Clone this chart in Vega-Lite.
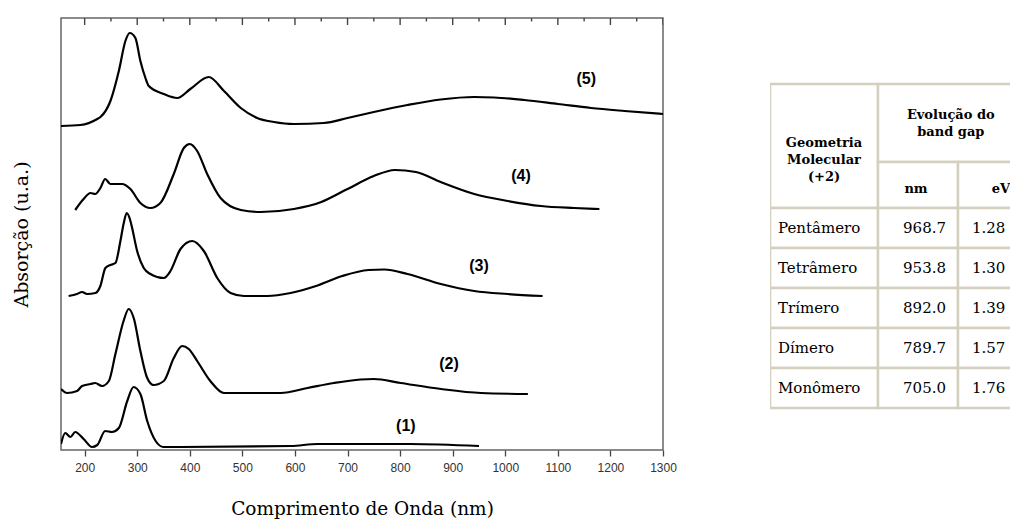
{
  "$schema": "https://vega.github.io/schema/vega-lite/v6.json",
  "padding": {"left": 11, "top": 17, "right": 0, "bottom": 0},
  "spacing": 92,
  "config": {"view": {"stroke": null}, "axis": {"grid": false}},
  "datasets": {
    "curves": [
      {"s":"5","nm":155,"a":324},{"s":"5","nm":192,"a":325},{"s":"5","nm":224,"a":331},{"s":"5","nm":230,"a":333},{"s":"5","nm":249,"a":349},{"s":"5","nm":265,"a":379},{"s":"5","nm":277.5,"a":409},{"s":"5","nm":285.7,"a":417},{"s":"5","nm":296.5,"a":412},{"s":"5","nm":306,"a":389},{"s":"5","nm":315.6,"a":372},{"s":"5","nm":322,"a":364},{"s":"5","nm":350.5,"a":356},{"s":"5","nm":376,"a":352},{"s":"5","nm":401,"a":361},{"s":"5","nm":436,"a":373},{"s":"5","nm":465,"a":359},{"s":"5","nm":497,"a":342},{"s":"5","nm":528,"a":332},{"s":"5","nm":560,"a":328},{"s":"5","nm":598,"a":326},{"s":"5","nm":655,"a":327},{"s":"5","nm":700,"a":332},{"s":"5","nm":750,"a":338},{"s":"5","nm":814,"a":345},{"s":"5","nm":877,"a":350.5},{"s":"5","nm":941,"a":353},{"s":"5","nm":979,"a":352.5},{"s":"5","nm":1036,"a":350},{"s":"5","nm":1100,"a":346},{"s":"5","nm":1163,"a":342},{"s":"5","nm":1227,"a":339},{"s":"5","nm":1300,"a":336},
      {"s":"4","nm":182,"a":240},{"s":"4","nm":198,"a":251},{"s":"4","nm":211,"a":257},{"s":"4","nm":220,"a":256},{"s":"4","nm":230,"a":262},{"s":"4","nm":239,"a":271},{"s":"4","nm":249,"a":266},{"s":"4","nm":258,"a":266},{"s":"4","nm":271,"a":266},{"s":"4","nm":287,"a":261},{"s":"4","nm":306,"a":247},{"s":"4","nm":325,"a":242},{"s":"4","nm":344,"a":247},{"s":"4","nm":369.5,"a":276},{"s":"4","nm":388.6,"a":302},{"s":"4","nm":400,"a":306},{"s":"4","nm":414,"a":299},{"s":"4","nm":433,"a":276},{"s":"4","nm":458.5,"a":252},{"s":"4","nm":497,"a":240},{"s":"4","nm":535,"a":238},{"s":"4","nm":598,"a":241},{"s":"4","nm":650,"a":248},{"s":"4","nm":700,"a":261},{"s":"4","nm":750,"a":274},{"s":"4","nm":790,"a":280},{"s":"4","nm":830,"a":278},{"s":"4","nm":877,"a":268},{"s":"4","nm":941,"a":256},{"s":"4","nm":1005,"a":249},{"s":"4","nm":1068,"a":244},{"s":"4","nm":1131,"a":242},{"s":"4","nm":1179,"a":241},
      {"s":"3","nm":169.5,"a":154},{"s":"3","nm":185.5,"a":156},{"s":"3","nm":195,"a":158},{"s":"3","nm":204.6,"a":156},{"s":"3","nm":220.4,"a":157},{"s":"3","nm":229.9,"a":164},{"s":"3","nm":239.4,"a":182},{"s":"3","nm":249,"a":185},{"s":"3","nm":258.5,"a":187},{"s":"3","nm":268,"a":209},{"s":"3","nm":274,"a":226},{"s":"3","nm":280,"a":237},{"s":"3","nm":286,"a":231},{"s":"3","nm":290.3,"a":222},{"s":"3","nm":299.8,"a":199},{"s":"3","nm":312.4,"a":182},{"s":"3","nm":325.1,"a":176},{"s":"3","nm":350.5,"a":172},{"s":"3","nm":363.2,"a":179},{"s":"3","nm":382.3,"a":201},{"s":"3","nm":404.6,"a":209},{"s":"3","nm":426.7,"a":199},{"s":"3","nm":452.2,"a":172},{"s":"3","nm":477.5,"a":157},{"s":"3","nm":502.9,"a":154},{"s":"3","nm":547.4,"a":154},{"s":"3","nm":591.8,"a":157},{"s":"3","nm":640,"a":164},{"s":"3","nm":690,"a":174},{"s":"3","nm":740,"a":180},{"s":"3","nm":770,"a":180.5},{"s":"3","nm":814,"a":176},{"s":"3","nm":877.5,"a":166},{"s":"3","nm":941,"a":159},{"s":"3","nm":1004.6,"a":156},{"s":"3","nm":1071,"a":154},
      {"s":"2","nm":155,"a":61},{"s":"2","nm":166.5,"a":57},{"s":"2","nm":185.5,"a":59},{"s":"2","nm":195,"a":64},{"s":"2","nm":211,"a":66},{"s":"2","nm":220,"a":67},{"s":"2","nm":233,"a":64},{"s":"2","nm":246,"a":69},{"s":"2","nm":258.5,"a":96},{"s":"2","nm":274,"a":129},{"s":"2","nm":283.8,"a":141},{"s":"2","nm":293.3,"a":132},{"s":"2","nm":306,"a":99},{"s":"2","nm":319,"a":72},{"s":"2","nm":331,"a":65},{"s":"2","nm":350.5,"a":69},{"s":"2","nm":369.5,"a":92},{"s":"2","nm":385.5,"a":104},{"s":"2","nm":398,"a":101},{"s":"2","nm":414,"a":89},{"s":"2","nm":439,"a":69},{"s":"2","nm":465,"a":57},{"s":"2","nm":516,"a":57},{"s":"2","nm":573,"a":57},{"s":"2","nm":624,"a":62},{"s":"2","nm":674,"a":67},{"s":"2","nm":725,"a":70.5},{"s":"2","nm":750,"a":71},{"s":"2","nm":801,"a":67},{"s":"2","nm":878,"a":61},{"s":"2","nm":954,"a":57},{"s":"2","nm":1043,"a":56},
      {"s":"1","nm":155,"a":6},{"s":"1","nm":163,"a":17},{"s":"1","nm":173,"a":13},{"s":"1","nm":182,"a":18},{"s":"1","nm":198,"a":11},{"s":"1","nm":214,"a":3},{"s":"1","nm":224,"a":5},{"s":"1","nm":239,"a":19},{"s":"1","nm":252,"a":18},{"s":"1","nm":265,"a":22},{"s":"1","nm":281,"a":49},{"s":"1","nm":293,"a":63},{"s":"1","nm":306,"a":56},{"s":"1","nm":319,"a":29},{"s":"1","nm":335,"a":9},{"s":"1","nm":350,"a":3},{"s":"1","nm":592,"a":4},{"s":"1","nm":643,"a":6},{"s":"1","nm":744,"a":6},{"s":"1","nm":820,"a":6},{"s":"1","nm":950,"a":4}
    ],
    "labels": [
      {"t":"(5)","nm":1154,"a":371},{"t":"(4)","nm":1030,"a":274},{"t":"(3)","nm":950,"a":184},{"t":"(2)","nm":893,"a":86},{"t":"(1)","nm":811,"a":24}
    ],
    "topticks": [
      {"nm":200,"k":"major"},{"nm":250,"k":"minor"},{"nm":300,"k":"major"},{"nm":350,"k":"minor"},{"nm":400,"k":"major"},{"nm":450,"k":"minor"},{"nm":500,"k":"major"},{"nm":550,"k":"minor"},{"nm":600,"k":"major"},{"nm":650,"k":"minor"},{"nm":700,"k":"major"},{"nm":750,"k":"minor"},{"nm":800,"k":"major"},{"nm":850,"k":"minor"},{"nm":900,"k":"major"},{"nm":950,"k":"minor"},{"nm":1000,"k":"major"},{"nm":1050,"k":"minor"},{"nm":1100,"k":"major"},{"nm":1150,"k":"minor"},{"nm":1200,"k":"major"},{"nm":1250,"k":"minor"},{"nm":1300,"k":"major"}
    ],
    "cells": [
      {"c0":0,"c1":1,"r0":0,"r1":2},{"c0":1,"c1":3,"r0":0,"r1":1},{"c0":1,"c1":2,"r0":1,"r1":2},{"c0":2,"c1":3,"r0":1,"r1":2},
      {"c0":0,"c1":1,"r0":2,"r1":3},{"c0":1,"c1":2,"r0":2,"r1":3},{"c0":2,"c1":3,"r0":2,"r1":3},
      {"c0":0,"c1":1,"r0":3,"r1":4},{"c0":1,"c1":2,"r0":3,"r1":4},{"c0":2,"c1":3,"r0":3,"r1":4},
      {"c0":0,"c1":1,"r0":4,"r1":5},{"c0":1,"c1":2,"r0":4,"r1":5},{"c0":2,"c1":3,"r0":4,"r1":5},
      {"c0":0,"c1":1,"r0":5,"r1":6},{"c0":1,"c1":2,"r0":5,"r1":6},{"c0":2,"c1":3,"r0":5,"r1":6},
      {"c0":0,"c1":1,"r0":6,"r1":7},{"c0":1,"c1":2,"r0":6,"r1":7},{"c0":2,"c1":3,"r0":6,"r1":7}
    ],
    "heads": [
      {"t":["Geometria","Molecular","(+2)"],"cx":0.5,"cy":0.75},
      {"t":["Evolução do","band gap"],"cx":1.91,"cy":0.4},
      {"t":"nm","cx":1.475,"cy":1.59},
      {"t":"eV","cx":2.58,"cy":1.59}
    ],
    "rows": [
      {"geo":"Pentâmero","nm":968.7,"ev":1.28,"r":2.5},
      {"geo":"Tetrâmero","nm":953.8,"ev":1.30,"r":3.5},
      {"geo":"Trímero","nm":892.0,"ev":1.39,"r":4.5},
      {"geo":"Dímero","nm":789.7,"ev":1.57,"r":5.5},
      {"geo":"Monômero","nm":705.0,"ev":1.76,"r":6.5}
    ]
  },
  "hconcat": [
    {
      "width": 602,
      "height": 432,
      "view": {"stroke": "#666666", "strokeWidth": 1.5},
      "layer": [
        {
          "data": {"name": "curves"},
          "mark": {"type": "line", "color": "black", "strokeWidth": 2.2, "interpolate": "monotone", "clip": true},
          "encoding": {
            "x": {"field": "nm", "type": "quantitative",
                  "scale": {"domain": [155, 1300], "nice": false, "zero": false},
                  "axis": {"orient": "bottom",
                           "values": [200,250,300,350,400,450,500,550,600,650,700,750,800,850,900,950,1000,1050,1100,1150,1200,1250,1300],
                           "format": "d", "labelExpr": "datum.value % 100 === 0 ? datum.label : ''",
                           "title": "Comprimento de Onda (nm)", "titleFont": "DejaVu Serif", "titleFontSize": 18.5,
                           "titleFontWeight": "normal", "titleColor": "black", "titlePadding": 26,
                           "labelFont": "Liberation Sans", "labelFontSize": 12, "labelColor": "#333333",
                           "labelPadding": 6, "labelFlush": false, "labelOverlap": false,
                           "domain": false, "ticks": true, "tickOpacity": 1, "tickColor": "#444444",
                           "tickSize": {"condition": {"test": "datum.value % 100 === 0", "value": 6}, "value": 3},
                           "tickWidth": 1.3}},
            "y": {"field": "a", "type": "quantitative",
                  "scale": {"domain": [0, 432], "nice": false, "zero": false},
                  "axis": {"title": "Absorção (u.a.)", "titleFont": "DejaVu Serif", "titleFontSize": 19,
                           "titleFontWeight": "normal", "titleColor": "black", "titlePadding": 30,
                           "labels": false, "ticks": false, "domain": false}},
            "detail": {"field": "s", "type": "nominal"}
          }
        },
        {
          "data": {"name": "labels"},
          "mark": {"type": "text", "font": "Liberation Sans", "fontWeight": "bold", "fontSize": 16, "color": "black"},
          "encoding": {
            "x": {"field": "nm", "type": "quantitative"},
            "y": {"field": "a", "type": "quantitative"},
            "text": {"field": "t", "type": "nominal"}
          }
        },
        {
          "data": {"name": "topticks"},
          "mark": {"type": "tick", "orient": "vertical", "thickness": 1.4, "color": "#444444", "opacity": 1, "clip": true},
          "encoding": {
            "x": {"field": "nm", "type": "quantitative"},
            "y": {"datum": 432, "type": "quantitative"},
            "size": {"field": "k", "type": "nominal", "scale": {"domain": ["major", "minor"], "range": [14, 7]}, "legend": null}
          }
        }
      ]
    },
    {
      "width": 243,
      "height": 432,
      "view": {"stroke": null},
      "layer": [
        {
          "data": {"name": "cells"},
          "mark": {"type": "rect", "fill": "white", "stroke": "#d4d0bf", "strokeWidth": 2.5, "clip": true},
          "encoding": {
            "x": {"field": "c0", "type": "quantitative", "scale": {"type": "linear", "domain": [0,1,2,3], "range": [0,108,188,262], "nice": false, "zero": false}, "axis": null},
            "x2": {"field": "c1"},
            "y": {"field": "r0", "type": "quantitative", "scale": {"type": "linear", "domain": [0,1,2,7], "range": [66,144,190,390], "nice": false, "zero": false}, "axis": null},
            "y2": {"field": "r1"}
          }
        },
        {
          "data": {"name": "heads"},
          "mark": {"type": "text", "font": "DejaVu Serif", "fontWeight": "bold", "fontSize": 13, "lineHeight": 17, "align": "center", "baseline": "middle", "color": "black", "clip": true},
          "encoding": {
            "x": {"field": "cx", "type": "quantitative", "scale": {"type": "linear", "domain": [0,1,2,3], "range": [0,108,188,262], "nice": false, "zero": false}, "axis": null},
            "y": {"field": "cy", "type": "quantitative", "scale": {"type": "linear", "domain": [0,1,2,7], "range": [66,144,190,390], "nice": false, "zero": false}, "axis": null},
            "text": {"field": "t", "type": "nominal"}
          }
        },
        {
          "data": {"name": "rows"},
          "mark": {"type": "text", "font": "DejaVu Serif", "fontSize": 15, "align": "left", "baseline": "middle", "dx": 8, "color": "black", "clip": true},
          "encoding": {
            "x": {"datum": 0, "type": "quantitative", "scale": {"type": "linear", "domain": [0,1,2,3], "range": [0,108,188,262], "nice": false, "zero": false}, "axis": null},
            "y": {"field": "r", "type": "quantitative", "scale": {"type": "linear", "domain": [0,1,2,7], "range": [66,144,190,390], "nice": false, "zero": false}, "axis": null},
            "text": {"field": "geo", "type": "nominal"}
          }
        },
        {
          "data": {"name": "rows"},
          "mark": {"type": "text", "font": "DejaVu Serif", "fontSize": 15, "align": "right", "baseline": "middle", "dx": -12, "color": "black", "clip": true},
          "encoding": {
            "x": {"datum": 2, "type": "quantitative", "scale": {"type": "linear", "domain": [0,1,2,3], "range": [0,108,188,262], "nice": false, "zero": false}, "axis": null},
            "y": {"field": "r", "type": "quantitative", "scale": {"type": "linear", "domain": [0,1,2,7], "range": [66,144,190,390], "nice": false, "zero": false}, "axis": null},
            "text": {"field": "nm", "type": "quantitative", "format": ".1f"}
          }
        },
        {
          "data": {"name": "rows"},
          "mark": {"type": "text", "font": "DejaVu Serif", "fontSize": 15, "align": "left", "baseline": "middle", "dx": 14, "color": "black", "clip": true},
          "encoding": {
            "x": {"datum": 2, "type": "quantitative", "scale": {"type": "linear", "domain": [0,1,2,3], "range": [0,108,188,262], "nice": false, "zero": false}, "axis": null},
            "y": {"field": "r", "type": "quantitative", "scale": {"type": "linear", "domain": [0,1,2,7], "range": [66,144,190,390], "nice": false, "zero": false}, "axis": null},
            "text": {"field": "ev", "type": "quantitative", "format": ".2f"}
          }
        }
      ]
    }
  ]
}
